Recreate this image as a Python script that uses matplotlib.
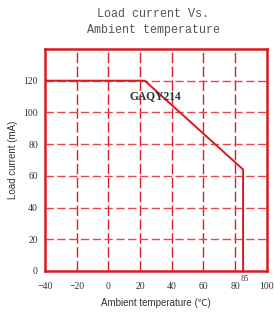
import matplotlib
matplotlib.use("Agg")
import matplotlib.pyplot as plt

temps = [-40, 23, 85, 85]
currents = [120, 120, 64, 0]
xticks = [-40, -20, 0, 20, 40, 60, 80, 100]
yticks = [0, 20, 40, 60, 80, 100, 120]

red = "#d81a1f"
vgrid_red = "#dc1f27"
hgrid_red = "#e8464d"

fig = plt.figure(figsize=(2.74, 3.14), dpi=100)
ax = fig.add_axes([0.164, 0.137, 0.81, 0.707])
ax.set_xlim(-40, 100)
ax.set_ylim(0, 140)

for x in xticks[1:-1]:
    ax.plot([x, x], [0, 140], color=vgrid_red, lw=1.0, dashes=(7.5, 2.5), zorder=1)
for y in yticks[1:]:
    ax.plot([-40, 100], [y, y], color=hgrid_red, lw=1.0, dashes=(6, 2.5), zorder=1)

ax.plot(temps, currents, color=red, lw=1.4, zorder=3)

for s in ax.spines.values():
    s.set_color(red)
    s.set_linewidth(1.8)

ax.set_xticks(xticks)
ax.set_yticks(yticks)
ax.tick_params(length=0, labelsize=7, labelcolor="#333333")
ax.tick_params(axis="x", pad=8)
ax.tick_params(axis="y", pad=5)
for lab in ax.get_xticklabels() + ax.get_yticklabels():
    lab.set_family("Liberation Serif")

ax.text(86, -2.5, "85", fontsize=6, family="Liberation Serif", color="#333333",
        ha="center", va="top")
ax.text(13.5, 110, "GAQY214", fontsize=8.3, family="Liberation Serif",
        weight="bold", color="#333333", ha="left", va="center", zorder=4)

ax.set_xlabel("Ambient temperature (\u2103)", fontsize=7,
              family=["Liberation Sans", "Noto Sans CJK SC"], color="#333333", labelpad=5)
ax.set_ylabel("Load current (mA)", fontsize=7, family="Liberation Sans",
              color="#333333", labelpad=4)

fig.text(0.56, 0.955, "Load current Vs.", fontsize=8.5, family="Liberation Mono",
         color="#555555", ha="center", va="center")
fig.text(0.56, 0.905, "Ambient temperature", fontsize=8.5, family="Liberation Mono",
         color="#555555", ha="center", va="center")

fig.savefig("out.png", dpi=100)
